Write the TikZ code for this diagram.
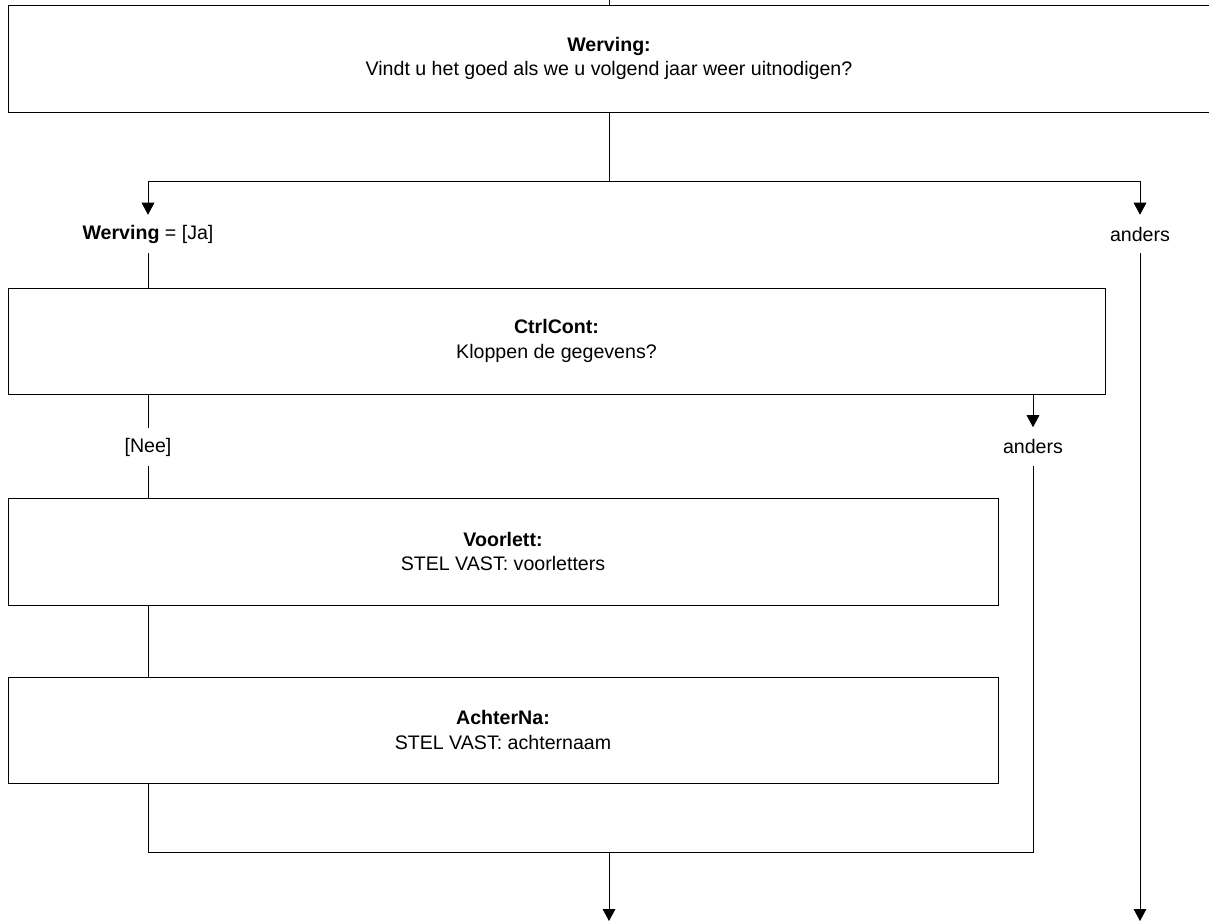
\documentclass[tikz,border=0pt]{standalone}
\usepackage{fontspec}
\setmainfont{Liberation Sans}
\usetikzlibrary{arrows.meta}

\begin{document}
\begin{tikzpicture}[
    x=0.75pt, y=-0.75pt,
    every node/.style={font=\fontsize{14.7}{18.2}\selectfont},
    vraag/.style={draw, line width=0.75pt, inner sep=0pt, align=center, fill=white},
    keuze/.style={inner sep=0pt, minimum height=28.5pt, text centered},
    lijn/.style={line width=0.75pt},
    arr/.style={lijn, -{Triangle[width=9.5pt, length=9pt]}}
]
\useasboundingbox (0,0) rectangle (1209,921);

% Vragen
\node[vraag, minimum width=901.5pt, minimum height=80.25pt] (werving) at (609, 58.5)
    {\textbf{Werving:}\\Vindt u het goed als we u volgend jaar weer uitnodigen?};
\node[vraag, minimum width=822.75pt, minimum height=79.5pt] (ctrl) at (556.5, 341)
    {\textbf{CtrlCont:}\\Kloppen de gegevens?};
\node[vraag, minimum width=742.5pt, minimum height=80.25pt] (voor) at (503, 551.5)
    {\textbf{Voorlett:}\\STEL VAST: voorletters};
\node[vraag, minimum width=742.5pt, minimum height=79.5pt] (achter) at (503, 730)
    {\textbf{AchterNa:}\\STEL VAST: achternaam};

% Voorwaarden
\node[keuze] (ja) at (148, 234) {\textbf{Werving} = [Ja]};
\node[keuze] (anders1) at (1140, 234) {anders};
\node[keuze] (nee) at (148, 447) {[Nee]};
\node[keuze] (anders2) at (1033, 446.5) {anders};

% Hulppunten
\coordinate (in) at (609, 0);
\coordinate (split) at (609, 181);
\coordinate (merge) at (609, 852);
\coordinate (out) at (609, 921);

% Verbindingen
\draw[lijn] (in) -- (werving.north);
\draw[lijn] (werving.south) -- (split);
\draw[arr] (split) -| (ja.north);
\draw[arr] (split) -| (anders1.north);
\draw[lijn] (ja.south) -- (ja |- ctrl.north);
\draw[arr] (anders1.south) -- (anders1 |- out);
\draw[lijn] (nee |- ctrl.south) -- (nee.north);
\draw[arr] (anders2 |- ctrl.south) -- (anders2.north);
\draw[lijn] (nee.south) -- (nee |- voor.north);
\draw[lijn] (nee |- voor.south) -- (nee |- achter.north);
\draw[lijn] (nee |- achter.south) |- (anders2 |- merge) -- (anders2.south);
\draw[arr] (merge) -- (out);
\end{tikzpicture}
\end{document}
